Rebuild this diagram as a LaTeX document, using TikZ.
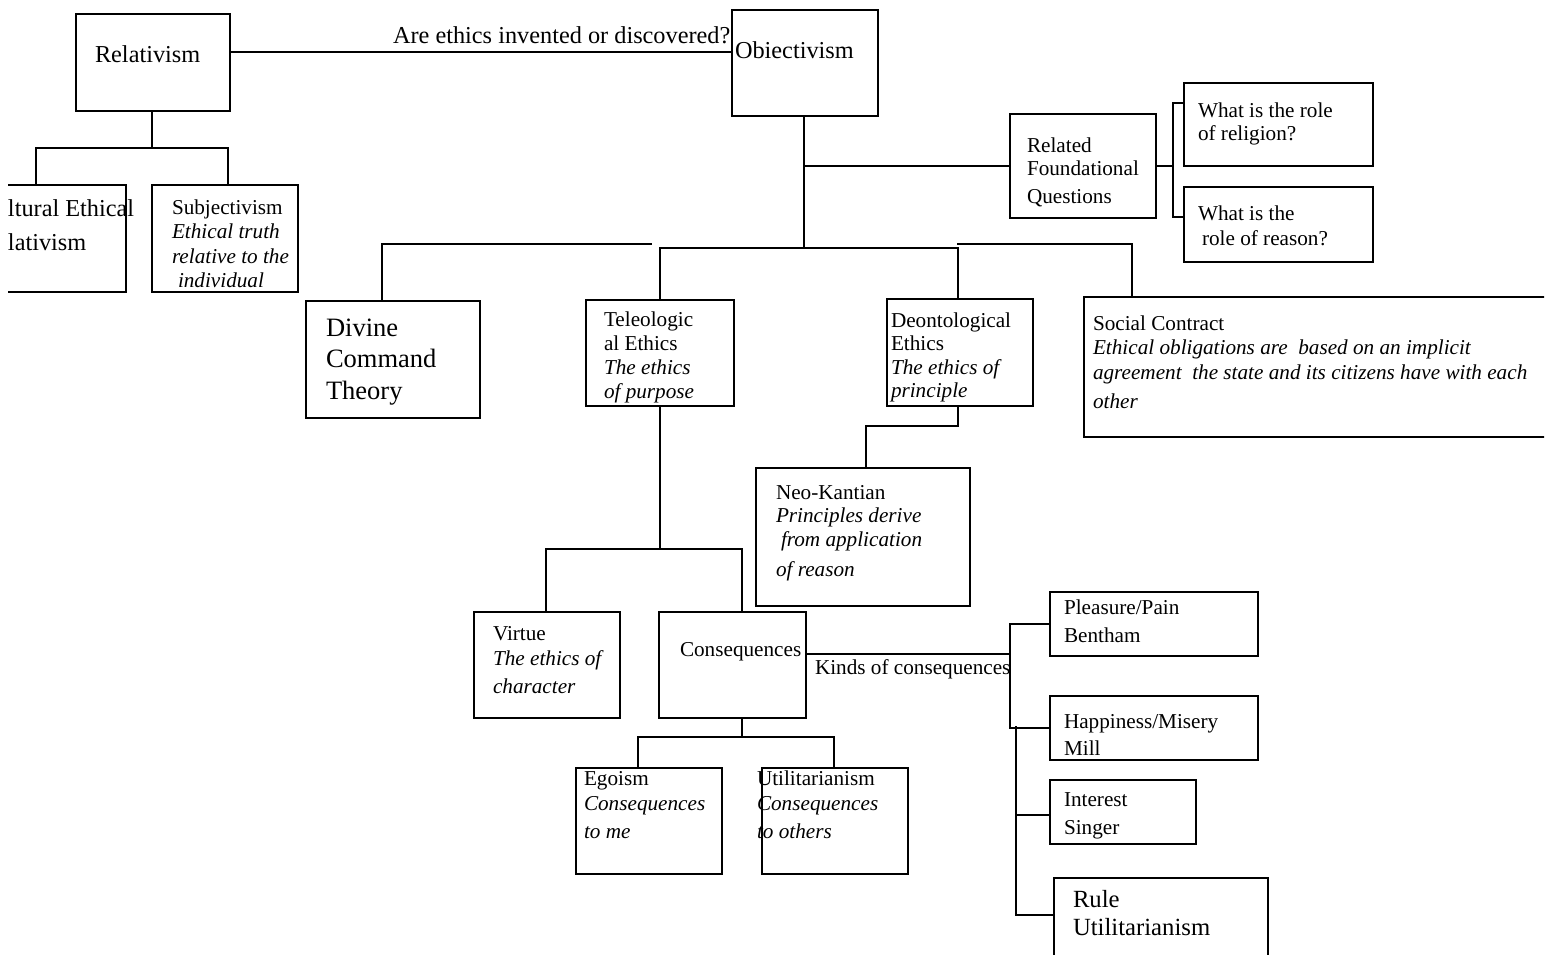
\documentclass[tikz,border=0pt]{standalone}
\usepackage{fontspec}
\setmainfont{Liberation Serif}
\newcommand\rows[2]{\vtop{\baselineskip=#1pt\relax\halign{##\hfil\cr#2\crcr}}}
\newcommand\fbig{\fontsize{24.3}{28}\selectfont}
\newcommand\fsm{\fontsize{21.2}{24}\selectfont}
\newcommand\fdiv{\fontsize{26.5}{31}\selectfont}
\newcommand\frl{\fontsize{24.7}{26}\selectfont}
\begin{document}
\begin{tikzpicture}[x=1pt,y=-1pt,
  box/.style={draw, line width=1.3pt, inner sep=0pt, outer sep=0pt, anchor=north west},
  txt/.style={inner sep=0pt, outer sep=0pt, anchor=base west},
  conn/.style={line width=1.3pt}]
\useasboundingbox (0,0) rectangle (1551,954);
\fill[white] (0,0) rectangle (1551,954);
\begin{scope}
\clip (8,0) rectangle (1544,954);
% boxes
\node[box, minimum width=154pt, minimum height=97pt] (relat) at (76,14) {};
\node[box, minimum width=146pt, minimum height=106pt] (obj) at (732,10) {};
\node[box, minimum width=186pt, minimum height=107pt] (cult) at (-60,185) {};
\node[box, minimum width=146pt, minimum height=107pt] (subj) at (152,185) {};
\node[box, minimum width=146pt, minimum height=104pt] (rfq) at (1010,114) {};
\node[box, minimum width=189pt, minimum height=83pt] (relig) at (1184,83) {};
\node[box, minimum width=189pt, minimum height=75pt] (reason) at (1184,187) {};
\node[box, minimum width=174pt, minimum height=117pt] (divine) at (306,301) {};
\node[box, minimum width=148pt, minimum height=106pt] (tele) at (586,300) {};
\node[box, minimum width=146pt, minimum height=107pt] (deon) at (887,299) {};
\node[box, minimum width=520pt, minimum height=140pt] (social) at (1084,297) {};
\node[box, minimum width=214pt, minimum height=138pt] (neo) at (756,468) {};
\node[box, minimum width=146pt, minimum height=106pt] (virtue) at (474,612) {};
\node[box, minimum width=147pt, minimum height=106pt] (cons) at (659,612) {};
\node[box, minimum width=146pt, minimum height=106pt] (egoism) at (576,768) {};
\node[box, minimum width=146pt, minimum height=106pt] (util) at (762,768) {};
\node[box, minimum width=208pt, minimum height=64pt] (pleas) at (1050,592) {};
\node[box, minimum width=208pt, minimum height=64pt] (happy) at (1050,696) {};
\node[box, minimum width=146pt, minimum height=64pt] (inter) at (1050,780) {};
\node[box, minimum width=214pt, minimum height=100pt] (rule) at (1054,878) {};
% junction coordinates
\coordinate (yq) at (0,52);
\coordinate (rj) at (152,148);
\coordinate (oj) at (804,248);
\coordinate (lj) at (652,244);
\coordinate (rj2) at (957,244);
\coordinate (qj) at (1173,166);
\coordinate (tj) at (660,549);
\coordinate (dj) at (958,426);
\coordinate (kj) at (1010,654);
\coordinate (kj2) at (1016,726);
\coordinate (cj) at (742,737);
% connectors
\draw[conn] (relat.east |- yq) -- (obj.west |- yq);
\draw[conn] (rj |- relat.south) -- (rj);
\draw[conn] ([xshift=3pt]cult.north) |- (rj) -| ([xshift=3pt]subj.north);
\draw[conn] (oj |- obj.south) -- (oj);
\draw[conn] (rfq.west -| oj) -- (rfq.west);
\draw[conn] ([xshift=-11pt]divine.north) |- (lj);
\draw[conn] (tele.north) |- (oj) -| ([xshift=-2pt]deon.north);
\draw[conn] (rj2) -| ([xshift=48pt]social.north west);
\draw[conn] (rfq.east) -- (qj |- rfq.east);
\draw[conn] ([yshift=21.5pt]relig.west) -| (qj) |- ([yshift=7.5pt]reason.west);
\draw[conn] (tele.south) -- (tj);
\draw[conn] ([xshift=-1pt]virtue.north) |- (tj) -| ([xshift=9.5pt]cons.north);
\draw[conn] ([xshift=-2pt]deon.south) -- (dj) -| ([xshift=3pt]neo.north);
\draw[conn] (cons.east |- kj) -- (kj);
\draw[conn] (pleas.west) -| (kj) |- (happy.west);
\draw[conn] (kj2) |- ([yshift=13pt]rule.west);
\draw[conn] ([yshift=-3pt]inter.west -| kj2) -- ([yshift=-3pt]inter.west);
\draw[conn] ([xshift=9.5pt]cons.south) -- (cj);
\draw[conn] ([xshift=-11pt]egoism.north) |- (cj) -| ([xshift=-1pt]util.north);
% texts
\node[txt, font=\fbig] (t-q) at (393,43) {Are ethics invented or discovered?};
\node[txt, font=\fbig] (t-rel) at (95,62) {Relativism};
\node[txt, font=\fbig] (t-obj) at (735,58) {Obiectivism};
\node[txt, font=\fbig] (t-cult) at (8,216) {\rows{34}{ltural Ethical\cr lativism}};
\node[txt, font=\fsm] (t-subj) at (172,214) {\rows{24.5}{Subjectivism\cr \textit{Ethical truth}\cr \textit{relative to the}\cr \hspace*{6pt}\textit{individual}}};
\node[txt, font=\fsm] (t-rfq) at (1027,152) {\rows{23.5}{Related\cr Foundational\cr\noalign{\kern4pt} Questions}};
\node[txt, font=\fsm] (t-relig) at (1198,117) {\rows{23}{What is the role\cr of religion?}};
\node[txt, font=\fsm] (t-reason) at (1198,220) {\rows{25.5}{What is the\cr \hspace*{4pt}role of reason?}};
\node[txt, font=\fdiv] (t-div) at (326,336) {\rows{31.5}{Divine\cr Command\cr Theory}};
\node[txt, font=\fsm] (t-tele) at (604,326) {\rows{24}{Teleologic\cr al Ethics\cr \textit{The ethics}\cr \textit{of purpose}}};
\node[txt, font=\fsm] (t-deon) at (891,327) {\rows{23.5}{Deontological\cr Ethics\cr \textit{The ethics of}\cr \textit{principle}}};
\node[txt, font=\fsm] (t-soc) at (1093,330) {\rows{24.5}{Social Contract\cr \textit{Ethical obligations are\ \ based on an implicit}\cr \textit{agreement\ \ the state and its citizens have with each}\cr\noalign{\kern4.5pt}\textit{other}}};
\node[txt, font=\fsm] (t-neo) at (776,499) {\rows{23.5}{Neo-Kantian\cr \textit{Principles derive}\cr \hspace*{5pt}\textit{from application}\cr\noalign{\kern6.5pt}\textit{of reason}}};
\node[txt, font=\fsm] (t-vir) at (493,640) {\rows{25}{Virtue\cr \textit{The ethics of}\cr\noalign{\kern3pt}\textit{character}}};
\node[txt, font=\fsm] (t-cons) at (680,656) {Consequences};
\node[txt, font=\fsm] (t-kinds) at (815,674) {Kinds of consequences};
\node[txt, font=\fsm] (t-ego) at (584,785) {\rows{25}{Egoism\cr \textit{Consequences}\cr\noalign{\kern3pt}\textit{to me}}};
\node[txt, font=\fsm] (t-util) at (757,785) {\rows{25}{Utilitarianism\cr \textit{Consequences}\cr\noalign{\kern3pt}\textit{to others}}};
\node[txt, font=\fsm] (t-pleas) at (1064,614) {\rows{28}{Pleasure/Pain\cr Bentham}};
\node[txt, font=\fsm] (t-happy) at (1064,728) {\rows{27.5}{Happiness/Misery\cr Mill}};
\node[txt, font=\fsm] (t-inter) at (1064,806) {\rows{28}{Interest\cr Singer}};
\node[txt, font=\frl] (t-rule) at (1073,907) {\rows{28}{Rule\cr Utilitarianism}};
\end{scope}
\end{tikzpicture}
\end{document}
